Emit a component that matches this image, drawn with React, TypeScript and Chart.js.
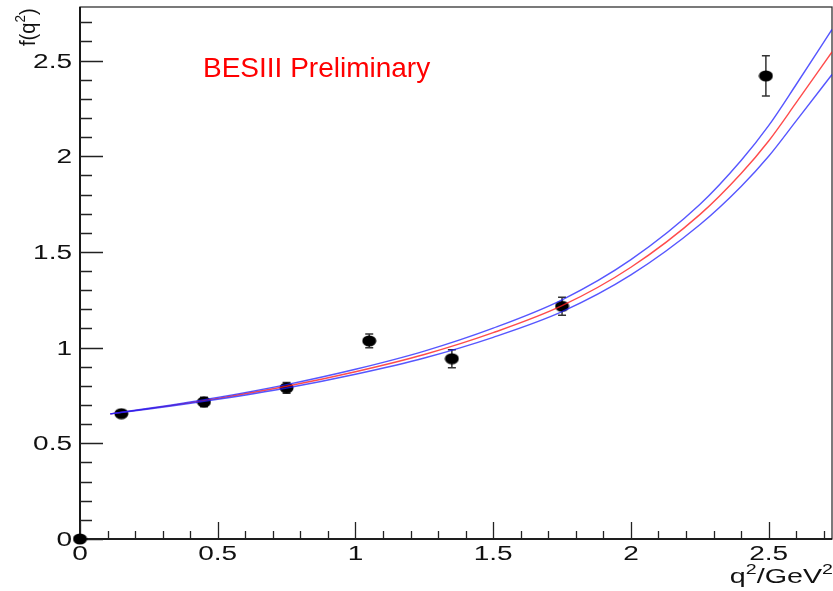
import React, { useEffect, useRef } from 'react';
import { Chart, registerables } from 'chart.js';

Chart.register(...registerables);

// ---- data ----
const pointsX = [0, 0.15, 0.45, 0.75, 1.05, 1.35, 1.75, 2.49];
const pointsY = [0, 0.655, 0.716, 0.79, 1.035, 0.942, 1.216, 2.42];
const pointsErr = [0, 0.008, 0.025, 0.028, 0.036, 0.047, 0.047, 0.105];

const curveX = [0.11, 0.25, 0.5, 0.75, 1.0, 1.25, 1.5, 1.75, 2.0, 2.25, 2.4, 2.5, 2.6, 2.73];
const curveCentral = [0.654, 0.681, 0.735, 0.798, 0.874, 0.964, 1.078, 1.219, 1.42, 1.695, 1.91, 2.08, 2.28, 2.545];
const curveUpper = [0.654, 0.683, 0.74, 0.807, 0.887, 0.982, 1.102, 1.25, 1.46, 1.748, 1.978, 2.16, 2.375, 2.663];
const curveLower = [0.654, 0.679, 0.73, 0.789, 0.861, 0.946, 1.054, 1.188, 1.38, 1.642, 1.842, 2.0, 2.185, 2.427];

const xTickValues = [0, 0.5, 1, 1.5, 2, 2.5];
const xTickLabels = ['0', '0.5', '1', '1.5', '2', '2.5'];
const yTickValues = [0, 0.5, 1, 1.5, 2, 2.5];
const yTickLabels = ['0', '0.5', '1', '1.5', '2', '2.5'];

const X_MIN = 0;
const X_MAX = 2.73;
const Y_MIN = 0;
const Y_MAX = 2.78;
const MINOR_STEP = 0.1;

const annotationText = 'BESIII Preliminary';
const yTitleParts = [
  { t: 'f(q', sup: false },
  { t: '2', sup: true },
  { t: ')', sup: false },
];
const xTitleParts = [
  { t: 'q', sup: false },
  { t: '2', sup: true },
  { t: '/GeV', sup: false },
  { t: '2', sup: true },
];

const FONT = '"Liberation Sans", Arial, Helvetica, sans-serif';
const SX = 1.4; // horizontal stretch of the reference's text

type Part = { t: string; sup: boolean };

function richWidth(ctx: CanvasRenderingContext2D, parts: Part[], size: number, supSize: number) {
  let w = 0;
  for (const p of parts) {
    ctx.font = `${p.sup ? supSize : size}px ${FONT}`;
    w += ctx.measureText(p.t).width;
  }
  return w;
}

function drawRich(ctx: CanvasRenderingContext2D, parts: Part[], size: number, supSize: number, supRaise: number) {
  let cx = 0;
  ctx.textAlign = 'left';
  ctx.textBaseline = 'alphabetic';
  for (const p of parts) {
    ctx.font = `${p.sup ? supSize : size}px ${FONT}`;
    ctx.fillText(p.t, cx, p.sup ? -supRaise : 0);
    cx += ctx.measureText(p.t).width;
  }
}

const decor = {
  id: 'decor',
  beforeDatasetsDraw(chart: any) {
    const { ctx, chartArea: a } = chart;
    const xs = chart.scales.x;
    const ys = chart.scales.y;
    ctx.save();

    // frame
    ctx.strokeStyle = '#333';
    ctx.lineWidth = 1.3;
    ctx.strokeRect(a.left, a.top, a.right - a.left, a.bottom - a.top);
    ctx.strokeStyle = '#000';
    ctx.lineWidth = 1.6;
    ctx.beginPath();
    ctx.moveTo(a.left, a.top);
    ctx.lineTo(a.left, a.bottom);
    ctx.lineTo(a.right, a.bottom);
    ctx.stroke();

    // ticks
    ctx.strokeStyle = '#222';
    ctx.lineWidth = 1.3;
    ctx.beginPath();
    const nx = Math.round((X_MAX - X_MIN) / MINOR_STEP);
    for (let i = 0; i <= nx; i++) {
      const v = X_MIN + i * MINOR_STEP;
      if (v > X_MAX + 1e-9) break;
      const major = i % 5 === 0;
      const px = Math.round(xs.getPixelForValue(v)) + 0.5;
      ctx.moveTo(px, a.bottom);
      ctx.lineTo(px, a.bottom - (major ? 17 : 8));
    }
    const ny = Math.round((Y_MAX - Y_MIN) / MINOR_STEP);
    for (let i = 0; i <= ny; i++) {
      const v = Y_MIN + i * MINOR_STEP;
      if (v > Y_MAX + 1e-9) break;
      const major = i % 5 === 0;
      const py = Math.round(ys.getPixelForValue(v)) + 0.5;
      ctx.moveTo(a.left, py);
      ctx.lineTo(a.left + (major ? 23 : 12), py);
    }
    ctx.stroke();

    // tick labels
    ctx.fillStyle = '#111';
    ctx.font = `20px ${FONT}`;
    ctx.textBaseline = 'alphabetic';
    xTickValues.forEach((v, i) => {
      const px = xs.getPixelForValue(v);
      ctx.save();
      ctx.translate(px, 560);
      ctx.scale(SX, 1);
      ctx.textAlign = 'center';
      ctx.fillText(xTickLabels[i], 0, 0);
      ctx.restore();
    });
    yTickValues.forEach((v, i) => {
      const py = ys.getPixelForValue(v);
      ctx.save();
      ctx.translate(a.left - 8, py + 7);
      ctx.scale(SX, 1);
      ctx.textAlign = 'right';
      ctx.fillText(yTickLabels[i], 0, 0);
      ctx.restore();
    });

    // x title (right aligned at frame edge)
    {
      const w = richWidth(ctx, xTitleParts, 20.5, 14) * SX;
      ctx.save();
      ctx.translate(a.right + 1 - w, 583);
      ctx.scale(SX, 1);
      drawRich(ctx, xTitleParts, 20.5, 14, 9);
      ctx.restore();
    }

    // y title (rotated, top aligned)
    {
      ctx.save();
      ctx.translate(35, 46);
      ctx.rotate(-Math.PI / 2);
      ctx.scale(1.12, 1.2);
      drawRich(ctx, yTitleParts, 18, 12, 8);
      ctx.restore();
    }

    // annotation
    ctx.fillStyle = '#ff0000';
    ctx.font = `28px ${FONT}`;
    ctx.textAlign = 'left';
    ctx.fillText(annotationText, 203, 77);

    // error bars
    ctx.strokeStyle = '#333';
    ctx.lineWidth = 1.5;
    ctx.beginPath();
    pointsX.forEach((xv, i) => {
      const e = pointsErr[i];
      if (!e) return;
      const cx = xs.getPixelForValue(xv);
      const y1 = ys.getPixelForValue(pointsY[i] + e);
      const y2 = ys.getPixelForValue(pointsY[i] - e);
      ctx.moveTo(cx, y1);
      ctx.lineTo(cx, y2);
      ctx.moveTo(cx - 4, y1);
      ctx.lineTo(cx + 4, y1);
      ctx.moveTo(cx - 4, y2);
      ctx.lineTo(cx + 4, y2);
    });
    ctx.stroke();

    ctx.restore();
  },
};

export default function App() {
  const ref = useRef<HTMLCanvasElement | null>(null);

  useEffect(() => {
    if (!ref.current) return;
    const dot = document.createElement('canvas');
    dot.width = 15;
    dot.height = 12;
    const dc = dot.getContext('2d')!;
    dc.fillStyle = '#000';
    dc.beginPath();
    dc.ellipse(7.5, 6, 7, 5.6, 0, 0, Math.PI * 2);
    dc.fill();

    const toXY = (ys: number[]) => curveX.map((x, i) => ({ x, y: ys[i] }));

    const chart = new Chart(ref.current, {
      type: 'scatter',
      data: {
        datasets: [
          {
            data: toXY(curveUpper),
            showLine: true,
            borderColor: 'rgba(30,30,255,0.75)',
            borderWidth: 1.4,
            pointRadius: 0,
            cubicInterpolationMode: 'monotone',
          },
          {
            data: toXY(curveLower),
            showLine: true,
            borderColor: 'rgba(30,30,255,0.75)',
            borderWidth: 1.4,
            pointRadius: 0,
            cubicInterpolationMode: 'monotone',
          },
          {
            data: toXY(curveCentral),
            showLine: true,
            borderColor: 'rgba(255,30,30,0.8)',
            borderWidth: 1.4,
            pointRadius: 0,
            cubicInterpolationMode: 'monotone',
          },
          {
            data: pointsX.map((x, i) => ({ x, y: pointsY[i] })),
            showLine: false,
            pointStyle: dot as any,
            pointRadius: 6,
            backgroundColor: '#000',
            borderColor: '#000',
            clip: false as any,
          },
        ],
      } as any,
      options: {
        animation: false,
        responsive: false,
        devicePixelRatio: 1,
        events: [],
        layout: { autoPadding: false, padding: { top: 7, right: 1, left: 0, bottom: 0 } },
        plugins: { legend: { display: false }, tooltip: { enabled: false } },
        scales: {
          x: {
            type: 'linear',
            min: X_MIN,
            max: X_MAX,
            grid: { display: false },
            border: { display: false },
            ticks: { display: false },
            afterFit: (s: any) => {
              s.height = 52;
            },
          },
          y: {
            type: 'linear',
            min: Y_MIN,
            max: Y_MAX,
            grid: { display: false },
            border: { display: false },
            ticks: { display: false },
            afterFit: (s: any) => {
              s.width = 80;
            },
          },
        },
      } as any,
      plugins: [decor],
    });
    return () => chart.destroy();
  }, []);

  return (
    <div style={{ position: 'absolute', left: 0, top: 0, width: 833, height: 591, background: '#fff' }}>
      <canvas ref={ref} width={833} height={591} style={{ display: 'block' }} />
    </div>
  );
}
